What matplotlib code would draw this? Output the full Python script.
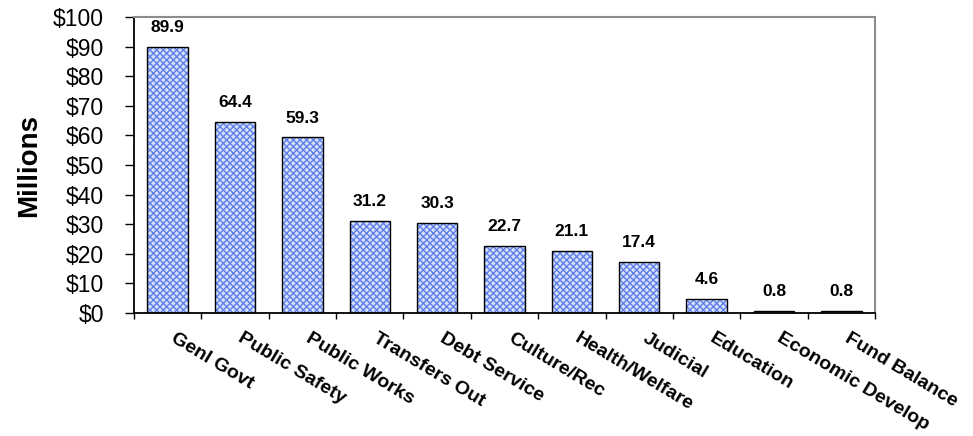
import matplotlib.pyplot as plt
from matplotlib.ticker import FuncFormatter, FixedLocator
from matplotlib.transforms import ScaledTranslation

# Expenditure categories and amounts (millions of dollars)
categories = ["Genl Govt", "Public Safety", "Public Works", "Transfers Out",
              "Debt Service", "Culture/Rec", "Health/Welfare", "Judicial",
              "Education", "Economic Develop", "Fund Balance"]
amounts = [89.9, 64.4, 59.3, 31.2, 30.3, 22.7, 21.1, 17.4, 4.6, 0.8, 0.8]
y_ticks = list(range(0, 101, 10))

plt.rcParams["font.family"] = ["Liberation Sans", "DejaVu Sans"]

fig = plt.figure(figsize=(9.73, 4.36), dpi=100)
ax = fig.add_axes([0.1377, 0.2821, 0.7616, 0.6789])

x = list(range(len(categories)))

# hatched fill first, then a plain black outline on top
ax.bar(x, amounts, width=0.6, color="#d6e0fa", edgecolor="#5f80e8",
       linewidth=0, hatch="xxxxx", zorder=2)
ax.bar(x, amounts, width=0.6, fill=False, edgecolor="black",
       linewidth=1.0, zorder=3)

for i, v in enumerate(amounts):
    ax.annotate(f"{v:.1f}", (i, v), xytext=(0, 14), textcoords="offset points",
                ha="center", va="center", fontsize=12.5, fontweight="bold")

ax.set_xlim(-0.5, len(categories) - 0.5)
ax.set_ylim(0, 100)

ax.set_yticks(y_ticks)
ax.yaxis.set_major_formatter(FuncFormatter(lambda v, _: f"${v:.0f}"))
ax.tick_params(axis="y", direction="out", length=6.5, width=1, pad=15,
               labelsize=16.5)

# category labels at bar centres, tick marks between categories
ax.set_xticks(x)
ax.set_xticklabels(categories, rotation=-31, ha="left", va="top",
                   rotation_mode="anchor", fontsize=14, fontweight="bold")
ax.xaxis.set_minor_locator(FixedLocator([i + 0.5 for i in range(-1, len(categories))]))
ax.tick_params(axis="x", which="major", length=0, pad=12)
ax.tick_params(axis="x", which="minor", direction="out", length=4.5, width=1)
shift = ScaledTranslation(9 / 100, 0, fig.dpi_scale_trans)
for lbl in ax.get_xticklabels():
    lbl.set_transform(lbl.get_transform() + shift)

ax.set_ylabel("Millions", fontsize=20, fontweight="bold", labelpad=8)

for side in ["left", "bottom"]:
    ax.spines[side].set_color("black")
    ax.spines[side].set_linewidth(1.3)
for side in ["top", "right"]:
    ax.spines[side].set_color("#8c8c8c")
    ax.spines[side].set_linewidth(1.5)

fig.savefig("out.png", dpi=100)
